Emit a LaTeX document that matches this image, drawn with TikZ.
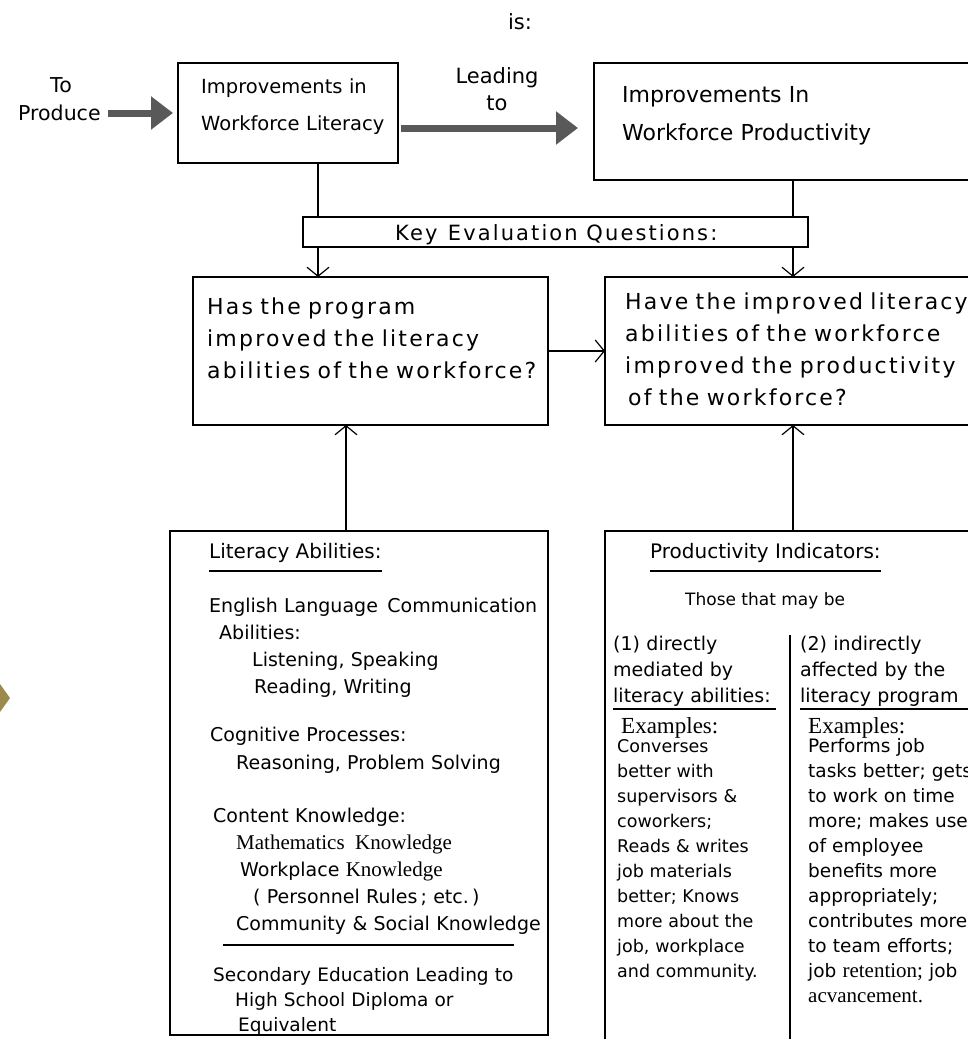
\documentclass[tikz,border=0pt]{standalone}
\usepackage{fontspec}
\setmainfont{DejaVu Sans}
\newfontfamily\spaced[LetterSpace=10]{DejaVu Sans}
\newfontfamily\oldserif{Liberation Serif}
\usetikzlibrary{arrows.meta,positioning}
\definecolor{tabgold}{HTML}{9C8A4C}

\tikzset{
  box/.style={draw, line width=1.3pt, inner sep=0pt, outer sep=0pt, anchor=north west},
  txt/.style={inner sep=0pt, anchor=base west, align=left, text width=#1},
  txt/.default=380pt,
  line/.style={inner sep=0pt, anchor=base west},
  barb/.style={-{Straight Barb[length=9pt,width=22pt]}, line width=1.2pt},
  fat/.style={-{Triangle[length=22pt,width=32pt]}, line width=7pt, draw=black!65},
}

\begin{document}
\begin{tikzpicture}[x=1pt,y=-1pt]
\clip (0,0) rectangle (968,1039);

% Top row
\node[font=\fontsize{21}{26}\selectfont] (is) at (520,22) {is:};
\node[txt=130pt, font=\fontsize{20.5}{28}\selectfont] (produce) at (18,92) {\hspace*{32pt}To\\Produce};
\node[box, minimum width=220pt, minimum height=100pt] (implit) at (178,63) {};
\node[txt, font=\fontsize{19.5}{37}\selectfont] at (201,93) {Improvements in\\Workforce Literacy};
\node[inner sep=0pt, align=center, font=\fontsize{21}{27}\selectfont] (leading) at (497,89) {Leading\\to};
\node[box, minimum width=400pt, minimum height=117pt] (improd) at (594,63) {};
\node[txt, font=\fontsize{22}{38}\selectfont] at (622,102) {Improvements In\\Workforce Productivity};

% Fat arrows
\coordinate (fat1) at (108,113);
\draw[fat] (fat1) -- ([xshift=-5pt]implit.west);
\draw[fat] ([yshift=-15pt,xshift=3pt]implit.east) -- ([yshift=-6.5pt,xshift=-16pt]improd.west);

% Key questions
\node[box, minimum width=505pt, minimum height=30pt] (keq) at (303,217) {};
\node[line, font=\spaced\fontsize{21}{26}\selectfont] at (395,240) {Key\enspace Evaluation Questions:};
\draw[line width=1.2pt] ([xshift=140pt]implit.south west) -- ([xshift=15pt]keq.north west);
\draw[line width=1.2pt] ([xshift=199pt]improd.south west) -- ([xshift=-15pt]keq.north east);

\node[box, minimum width=355pt, minimum height=148pt] (qlit) at (193,277) {};
\node[txt, font=\spaced\fontsize{22}{32}\selectfont] at (207,314) {Has the program\\improved the literacy\\abilities of the workforce?};
\node[box, minimum width=400pt, minimum height=148pt] (qprod) at (605,277) {};
\node[txt, font=\spaced\fontsize{22}{32}\selectfont] at (625,309) {Have the improved literacy\\abilities of the workforce\\improved the productivity\\\hspace*{3pt}of the workforce?};

\draw[barb] ([xshift=15pt]keq.south west) -- ([xshift=125pt]qlit.north west);
\draw[barb] ([xshift=-15pt]keq.south east) -- ([xshift=188pt]qprod.north west);
\draw[barb] (qlit.east) -- (qprod.west);

% Literacy abilities
\node[box, minimum width=378pt, minimum height=504pt] (litab) at (170,531) {};
\draw[barb] ([xshift=176pt]litab.north west) -- ([xshift=153pt]qlit.south west);
\node[line, font=\fontsize{20}{24}\selectfont] (littitle) at (209,558) {Literacy Abilities:};
\draw[line width=1.3pt] ([yshift=-13pt]littitle.base west) -- ([yshift=-13pt]littitle.base east);
\node[txt, font=\fontsize{19}{27}\selectfont] at (209,612) {English Language\enspace Communication\\\hspace*{10pt}Abilities:\\\hspace*{43pt}Listening, Speaking\\\hspace*{45pt}Reading, Writing};
\node[txt, font=\fontsize{19}{28}\selectfont] at (210,741) {Cognitive Processes:\\\hspace*{26pt}Reasoning, Problem Solving};
\node[txt, font=\fontsize{19}{27}\selectfont] at (213,822) {Content Knowledge:\\\hspace*{23pt}{\oldserif\fontsize{21}{27}\selectfont Mathematics\enspace Knowledge}\\\hspace*{27pt}Workplace {\oldserif\fontsize{21}{27}\selectfont Knowledge}\\\hspace*{40pt}( Personnel Rules\,; etc.\,)\\\hspace*{23pt}Community \& Social Knowledge};
\draw[line width=1.3pt] (223,945) -- (514,945);
\node[txt, font=\fontsize{18.5}{25}\selectfont] at (213,981) {Secondary Education Leading to\\\hspace*{22pt}High School Diploma or\\\hspace*{25pt}Equivalent};

% Productivity indicators
\node[box, minimum width=400pt, minimum height=520pt] (prodind) at (605,531) {};
\draw[barb] ([xshift=188pt]prodind.north west) -- ([xshift=188pt]qprod.south west);
\node[line, font=\fontsize{20}{24}\selectfont] (prodtitle) at (650,558) {Productivity Indicators:};
\draw[line width=1.3pt] ([yshift=-13pt]prodtitle.base west) -- ([yshift=-13pt]prodtitle.base east);
\node[line, font=\fontsize{17}{24}\selectfont] (those) at (685,605) {Those that may be};
\node[txt=180pt, font=\fontsize{19}{26}\selectfont] (direct) at (613,650) {(1) directly\\mediated by\\literacy abilities:};
\node[txt=200pt, font=\fontsize{19}{26}\selectfont] (indirect) at (800,650) {(2) indirectly\\affected by the\\literacy program};
\draw[line width=1.3pt] (613,709) -- (776,709);
\draw[line width=1.3pt] (800,709) -- (990,709);
\draw[line width=1.2pt] (790,635) -- (790,1050);
\node[line, font=\oldserif\fontsize{23}{26}\selectfont] (exleft) at (621,733) {Examples:};
\node[line, font=\oldserif\fontsize{23}{26}\selectfont] (exright) at (808,733) {Examples:};
\node[txt=180pt, font=\fontsize{17.5}{25}\selectfont] (leftcol) at (617,752) {Converses\\better with\\supervisors \&\\coworkers;\\Reads \& writes\\job materials\\better; Knows\\more about the\\job, workplace\\and community.};
\node[txt=220pt, font=\fontsize{18.5}{25}\selectfont] (rightcol) at (808,752) {Performs job\\tasks better; gets\\to work on time\\more; makes use\\of employee\\benefits more\\appropriately;\\contributes more\\to team efforts;\\job {\oldserif\fontsize{21}{25}\selectfont retention;} job\\{\oldserif\fontsize{21}{25}\selectfont acvancement.}};

% Edge mark
\fill[tabgold] (0,684) -- (10,698) -- (0,712) -- cycle;

\end{tikzpicture}
\end{document}
